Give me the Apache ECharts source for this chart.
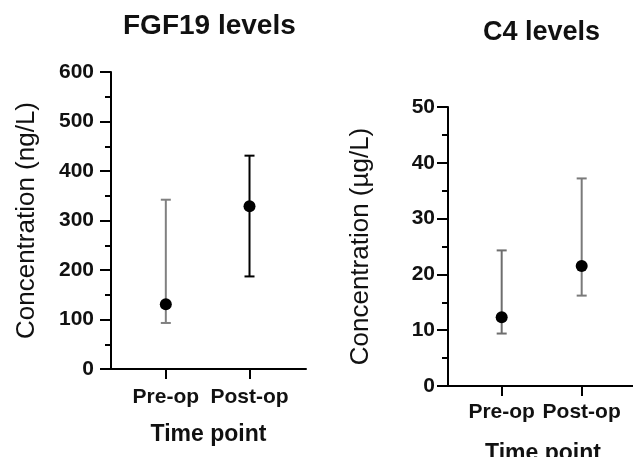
<!DOCTYPE html>
<html>
<head>
<meta charset="utf-8">
<script src="https://cdn.jsdelivr.net/npm/echarts@6/dist/echarts.min.js"></script>
<style>html,body{margin:0;padding:0;background:#fff}#c{width:633px;height:457px}</style>
</head>
<body>
<div id="c"></div>
<script>
const categories = ['Pre-op', 'Post-op'];
// FGF19 (ng/L)
const fgfMean = [131, 329];
const fgfLow = [93, 187];
const fgfHigh = [342, 431];
const fgfTicks = [0, 100, 200, 300, 400, 500, 600];
// C4 (µg/L)
const c4Mean = [12.3, 21.5];
const c4Low = [9.4, 16.2];
const c4High = [24.3, 37.2];
const c4Ticks = [0, 10, 20, 30, 40, 50];

const FONT = 'Liberation Sans, Arial, sans-serif';

function errData(low, high) {
  return categories.map((c, i) => [i, low[i], high[i]]);
}
function meanData(mean) {
  return categories.map((c, i) => [i, mean[i]]);
}
function errRender(colors) {
  return function (params, api) {
    const x = api.value(0);
    const lo = api.coord([x, api.value(1)]);
    const hi = api.coord([x, api.value(2)]);
    const hw = 5;
    const st = { stroke: colors[params.dataIndex], lineWidth: 2 };
    return {
      type: 'group',
      children: [
        { type: 'line', shape: { x1: lo[0], y1: lo[1], x2: hi[0], y2: hi[1] }, style: st },
        { type: 'line', shape: { x1: lo[0] - hw, y1: lo[1], x2: lo[0] + hw, y2: lo[1] }, style: st },
        { type: 'line', shape: { x1: hi[0] - hw, y1: hi[1], x2: hi[0] + hw, y2: hi[1] }, style: st }
      ]
    };
  };
}

function xAxisCfg(gridIndex, min, max, labelMargin, nameGap) {
  return {
    type: 'value', gridIndex, min, max,
    splitLine: { show: false },
    axisLine: { show: true, onZero: false, lineStyle: { color: '#000', width: 2 } },
    axisTick: { show: true, customValues: [0, 1], length: 10, lineStyle: { color: '#000', width: 2 } },
    axisLabel: {
      customValues: [0, 1], margin: labelMargin,
      formatter: v => categories[Math.round(v)] || '',
      color: '#111', fontSize: 21, fontWeight: 'bold', fontFamily: FONT
    },
    name: 'Time point', nameLocation: 'middle', nameGap,
    nameTextStyle: { color: '#111', fontSize: 23, fontWeight: 'bold', fontFamily: FONT }
  };
}
function yAxisCfg(gridIndex, ticks, name, nameGap, labelMargin) {
  return {
    type: 'value', gridIndex,
    min: ticks[0], max: ticks[ticks.length - 1], interval: ticks[1] - ticks[0],
    splitLine: { show: false },
    axisLine: { show: true, onZero: false, lineStyle: { color: '#000', width: 2 } },
    axisTick: { show: true, length: 11, lineStyle: { color: '#000', width: 2 } },
    minorTick: { show: true, splitNumber: 2, length: 6, lineStyle: { color: '#000', width: 2 } },
    axisLabel: { margin: labelMargin, color: '#111', fontSize: 21, fontWeight: 'bold', fontFamily: FONT },
    name, nameLocation: 'middle', nameGap, nameRotate: 90,
    nameTextStyle: { color: '#111', fontSize: 26, fontFamily: FONT }
  };
}

const chart = echarts.init(document.getElementById('c'));
chart.setOption({
  animation: false,
  backgroundColor: '#fff',
  title: [
    { text: 'FGF19 levels', left: 118, top: 7,
      textStyle: { fontSize: 28, fontWeight: 'bold', color: '#111', fontFamily: FONT } },
    { text: 'C4 levels', left: 478, top: 14,
      textStyle: { fontSize: 27, fontWeight: 'bold', color: '#111', fontFamily: FONT } }
  ],
  grid: [
    { left: 111, top: 72, width: 195, height: 297, outerBoundsMode: 'none', containLabel: false },
    { left: 448, top: 107, width: 190, height: 279, outerBoundsMode: 'none', containLabel: false }
  ],
  xAxis: [xAxisCfg(0, -0.655, 1.675, 18, 54), xAxisCfg(1, -0.671, 1.704, 16, 56)],
  yAxis: [yAxisCfg(0, fgfTicks, 'Concentration (ng/L)', 71, 17), yAxisCfg(1, c4Ticks, 'Concentration (µg/L)', 74, 13)],
  series: [
    { type: 'custom', xAxisIndex: 0, yAxisIndex: 0, data: errData(fgfLow, fgfHigh),
      renderItem: errRender(['#808080', '#000']), encode: { x: 0, y: [1, 2] }, z: 2 },
    { type: 'scatter', xAxisIndex: 0, yAxisIndex: 0, data: meanData(fgfMean),
      symbolSize: 12, itemStyle: { color: '#000', opacity: 1 }, z: 3 },
    { type: 'custom', xAxisIndex: 1, yAxisIndex: 1, data: errData(c4Low, c4High),
      renderItem: errRender(['#6e6e6e', '#7a7a7a']), encode: { x: 0, y: [1, 2] }, z: 2 },
    { type: 'scatter', xAxisIndex: 1, yAxisIndex: 1, data: meanData(c4Mean),
      symbolSize: 12, itemStyle: { color: '#000', opacity: 1 }, z: 3 }
  ]
});
</script>
</body>
</html>
